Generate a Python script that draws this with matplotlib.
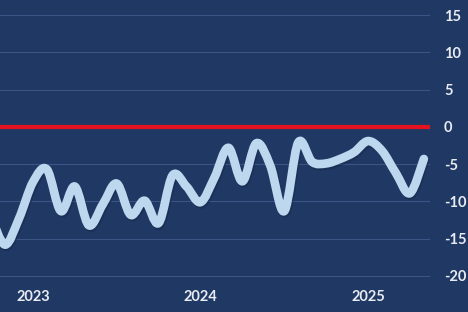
import numpy as np
import pandas as pd
import matplotlib

matplotlib.use("Agg")
import matplotlib.pyplot as plt
from matplotlib.path import Path
from matplotlib.patches import PathPatch

# monthly readings, Oct 2022 .. May 2025
months = pd.date_range("2022-10-01", periods=32, freq="MS")
values = [
    -12.0, -15.8, -12.3, -7.4, -5.7, -11.3, -8.0, -13.2, -10.4, -7.6,
    -11.8, -9.9, -12.9, -6.5, -8.0, -10.1, -6.8, -2.8, -7.3, -2.2,
    -5.2, -11.3, -2.1, -4.7, -4.9, -4.3, -3.4, -1.9, -3.2, -6.2,
    -8.9, -4.3,
]
y_ticks = [15, 10, 5, 0, -5, -10, -15, -20]
year_labels = ["2023", "2024", "2025"]

palette = {
    "bg": "#203864",
    "grid": "#3b5485",
    "line": "#bdd7ee",
    "shadow": "#17294a",
    "zero": "#e3121f",
    "text": "#e8ecf2",
}

plt.rcParams["axes.unicode_minus"] = False


def _smooth_path(xs, ys):
    # Catmull-Rom segments written as cubic Bezier curves
    pts = np.column_stack([xs, ys])
    verts = [pts[0]]
    codes = [Path.MOVETO]
    for i in range(len(pts) - 1):
        p0 = pts[i - 1] if i > 0 else pts[i]
        p1, p2 = pts[i], pts[i + 1]
        p3 = pts[i + 2] if i + 2 < len(pts) else pts[i + 1]
        verts += [p1 + (p2 - p0) / 6, p2 - (p3 - p1) / 6, p2]
        codes += [Path.CURVE4] * 3
    return Path(verts, codes)


x = np.arange(len(values)) - 1  # Nov 2022 sits at 0

fig = plt.figure(figsize=(4.68, 3.12), dpi=100, facecolor=palette["bg"])
ax = fig.add_axes([0, 29 / 312, 430 / 468, 283 / 312])
ax.set_facecolor(palette["bg"])

ax.set_xlim(-0.36, 30.44)
ax.set_ylim(-20.94, 17.02)

for t in y_ticks:
    if t == 0:
        continue
    ax.axhline(t, color=palette["grid"], linewidth=0.8, zorder=1)
ax.axhline(0, color=palette["zero"], linewidth=3.0, zorder=2)

shadow = PathPatch(_smooth_path(x + 0.08, np.array(values) - 0.25), facecolor="none",
                   edgecolor=palette["shadow"], linewidth=6.5, alpha=0.5,
                   capstyle="round", joinstyle="round", zorder=3)
ax.add_patch(shadow)
curve = PathPatch(_smooth_path(x, np.array(values)), facecolor="none",
                  edgecolor=palette["line"], linewidth=6.2,
                  capstyle="round", joinstyle="round", zorder=4)
ax.add_patch(curve)

year_pos = [x[i] for i, m in enumerate(months) if m.month == 1]
ax.set_xticks(year_pos)
ax.set_xticklabels(year_labels)
ax.set_yticks(y_ticks)
ax.yaxis.tick_right()
ax.tick_params(axis="y", length=0, pad=10, labelsize=10.5, labelcolor=palette["text"])
ax.tick_params(axis="x", length=0, pad=5, labelsize=10.5, labelcolor=palette["text"])
for lbl in ax.get_xticklabels() + ax.get_yticklabels():
    lbl.set_fontweight("bold")
    lbl.set_family("Lato")

for spine in ax.spines.values():
    spine.set_visible(False)

fig.savefig("out.png", dpi=100, facecolor=palette["bg"])
